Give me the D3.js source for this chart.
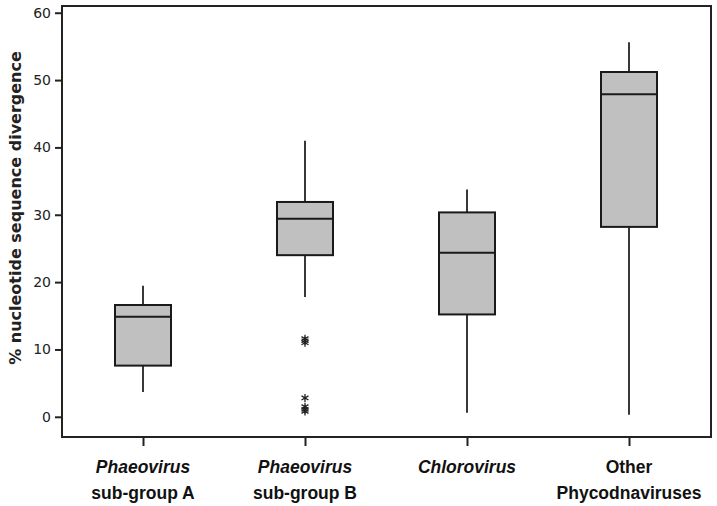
<!DOCTYPE html>
<html><head><meta charset="utf-8">
<script src="https://cdn.jsdelivr.net/npm/d3@7"></script>
<style>body{margin:0;background:#fff}</style>
</head><body>
<svg id="c" width="717" height="506"></svg>
<script>
const categories = ["A", "B", "C", "D"];
const labelLine1 = ["Phaeovirus", "Phaeovirus", "Chlorovirus", "Other"];
const labelLine2 = ["sub-group A", "sub-group B", "", "Phycodnaviruses"];
const line1Italic = [true, true, true, false];
const whiskerLow = [3.7, 17.8, 0.6, 0.3];
const q1 = [7.6, 24.0, 15.2, 28.2];
const median = [14.85, 29.4, 24.35, 47.9];
const q3 = [16.6, 31.9, 30.35, 51.2];
const whiskerHigh = [19.45, 41.0, 33.75, 55.6];
const outlierCat = ["B", "B", "B", "B", "B", "B", "B"];
const outlierVal = [11.6, 11.3, 11.0, 2.8, 1.5, 1.1, 0.8];
const yTicks = [0, 10, 20, 30, 40, 50, 60];

const svg = d3.select("#c");
const L = 62, R = 711, T = 6, B = 437;
const y = d3.scaleLinear().domain([-3, 61]).range([B, T]);
const x = d3.scalePoint().domain(categories).range([143, 629]);
const bw = 56;

// frame
svg.append("rect").attr("x", L).attr("y", T).attr("width", R - L).attr("height", B - T)
  .attr("fill", "none").attr("stroke", "#222").attr("stroke-width", 2);

// y axis
const ya = svg.append("g").attr("transform", `translate(${L},0)`)
  .call(d3.axisLeft(y).tickValues(yTicks).tickSize(7).tickPadding(4));
ya.select(".domain").remove();
ya.selectAll("line").attr("stroke", "#222").attr("stroke-width", 2);
ya.selectAll("text").attr("font-family", "DejaVu Sans, Verdana, sans-serif").attr("font-size", 14).attr("fill", "#222");

// x axis
const xa = svg.append("g").attr("transform", `translate(0,${B})`)
  .call(d3.axisBottom(x).tickSize(9).tickFormat(""));
xa.select(".domain").remove();
xa.selectAll("line").attr("stroke", "#222").attr("stroke-width", 2);

// y label
svg.append("text").attr("transform", "translate(21,208) rotate(-90)")
  .attr("text-anchor", "middle").attr("font-family", "DejaVu Sans, Verdana, sans-serif")
  .attr("font-weight", "bold").attr("font-size", 16).attr("fill", "#222")
  .text("% nucleotide sequence divergence");

// x labels
categories.forEach((c, i) => {
  svg.append("text").attr("x", x(c)).attr("y", 473).attr("text-anchor", "middle")
    .attr("font-family", "Liberation Sans, Arial, sans-serif").attr("font-weight", "bold")
    .attr("font-style", line1Italic[i] ? "italic" : "normal").attr("font-size", 17.5).attr("fill", "#111")
    .text(labelLine1[i]);
  if (labelLine2[i]) svg.append("text").attr("x", x(c)).attr("y", 499).attr("text-anchor", "middle")
    .attr("font-family", "Liberation Sans, Arial, sans-serif").attr("font-weight", "bold")
    .attr("font-size", 17.5).attr("fill", "#111").text(labelLine2[i]);
});

// boxes
const g = svg.append("g");
categories.forEach((c, i) => {
  const cx = x(c);
  g.append("line").attr("x1", cx).attr("x2", cx).attr("y1", y(whiskerHigh[i])).attr("y2", y(q3[i]))
    .attr("stroke", "#222").attr("stroke-width", 1.8);
  g.append("line").attr("x1", cx).attr("x2", cx).attr("y1", y(q1[i])).attr("y2", y(whiskerLow[i]))
    .attr("stroke", "#222").attr("stroke-width", 1.8);
  g.append("rect").attr("x", cx - bw / 2).attr("width", bw).attr("y", y(q3[i]))
    .attr("height", y(q1[i]) - y(q3[i])).attr("fill", "#c0c0c0").attr("stroke", "#1a1a1a").attr("stroke-width", 2);
  g.append("line").attr("x1", cx - bw / 2).attr("x2", cx + bw / 2).attr("y1", y(median[i])).attr("y2", y(median[i]))
    .attr("stroke", "#1a1a1a").attr("stroke-width", 2);
});

// outliers
const sym = d3.symbol().type(d3.symbolAsterisk).size(45);
outlierVal.forEach((v, i) => {
  g.append("path").attr("d", sym()).attr("transform", `translate(${x(outlierCat[i])},${y(v)})`)
    .attr("fill", "none").attr("stroke", "#222").attr("stroke-width", 1.3);
});
</script>
</body></html>
